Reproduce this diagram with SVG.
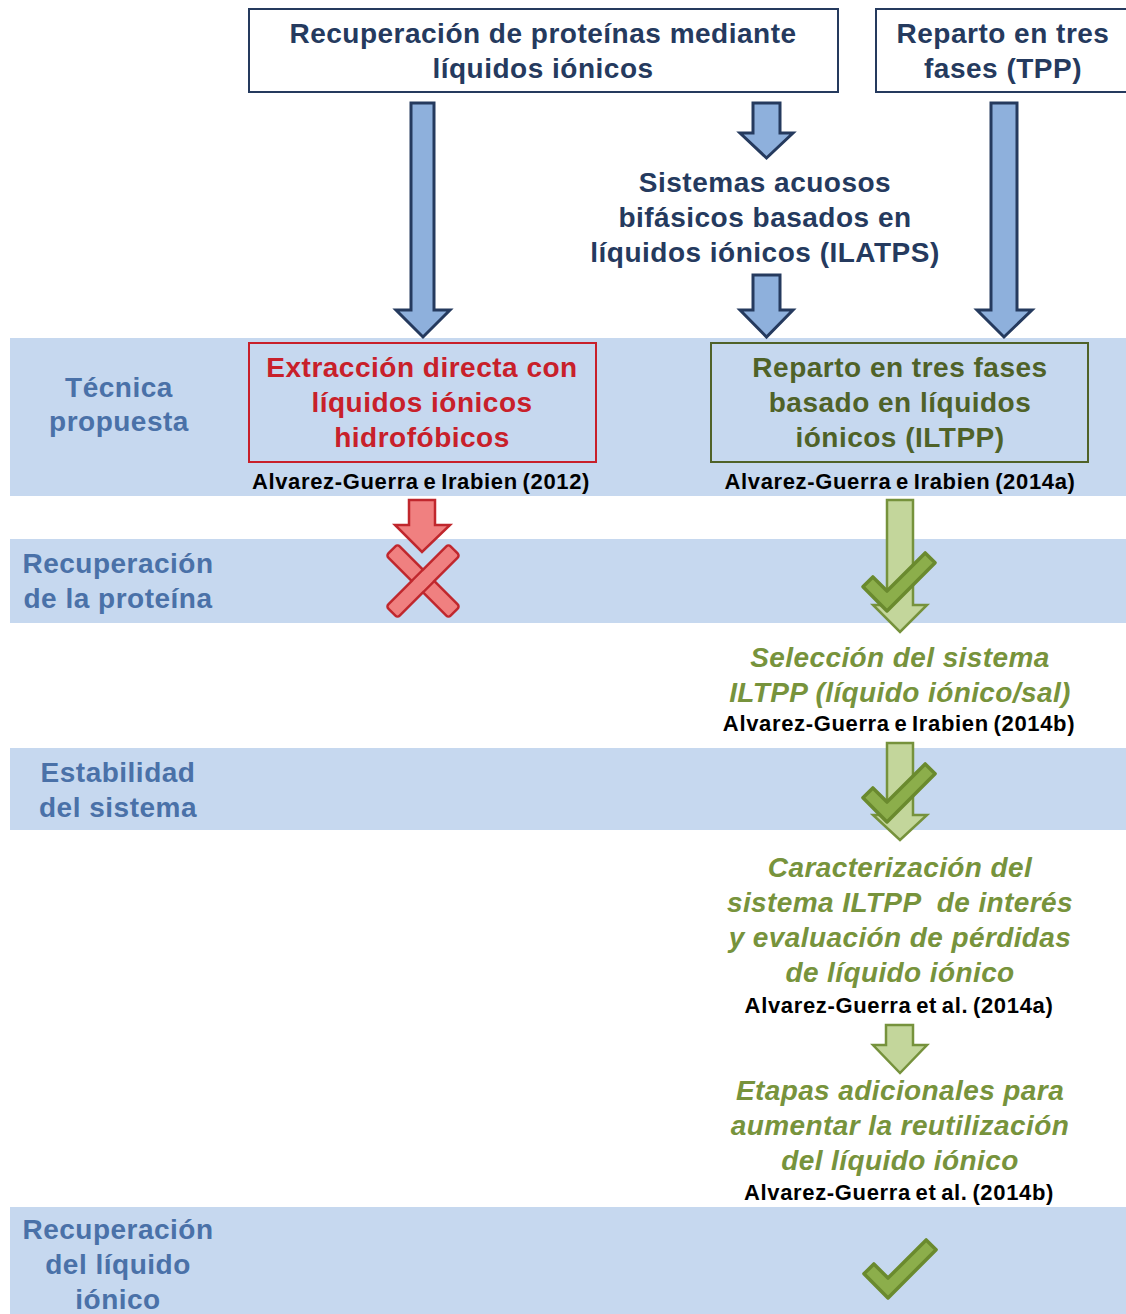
<svg xmlns="http://www.w3.org/2000/svg" width="1126" height="1314" viewBox="0 0 1126 1314">
  <defs>
    <style>
      text { font-family: "Liberation Sans", Arial, sans-serif; font-weight: bold; text-anchor: middle; }
      .navy { fill: #253a5e; font-size: 28px; letter-spacing: 0.5px; }
      .label { fill: #4a71a8; font-size: 28px; letter-spacing: 0.5px; }
      .red { fill: #c8202a; font-size: 28px; letter-spacing: 0.5px; }
      .green { fill: #4f6228; font-size: 28px; letter-spacing: 0.5px; }
      .step { fill: #77933c; font-size: 28px; font-style: italic; letter-spacing: 0.4px; }
      .ref { fill: #000000; font-size: 22px; letter-spacing: 0.65px; word-spacing: -2px; }
      .band { fill: #c6d8ef; }
      .arrow-blue { fill: #8eb0dc; stroke: #253a5e; stroke-width: 3; stroke-linejoin: miter; }
      .arrow-red { fill: #f08080; stroke: #c0272d; stroke-width: 2.5; }
      .arrow-green { fill: #c3d69b; stroke: #76923c; stroke-width: 2.5; }
      .check { fill: #8cae4b; stroke: #6a8a2e; stroke-width: 3.5; stroke-linejoin: round; }
      .cross { fill: #f08080; stroke: #c0272d; stroke-width: 2.5; }
    </style>
    <!-- check mark: L shape rotated so the long arm points up-right -->
    <polygon id="tick" points="-7,-27 7,-27 7,-7 61,-7 61,7 -7,7" transform="rotate(-45)"/>
  </defs>

  <!-- row bands -->
  <g id="bands">
    <rect class="band" x="10" y="338" width="1116" height="158"/>
    <rect class="band" x="10" y="539" width="1116" height="84"/>
    <rect class="band" x="10" y="748" width="1116" height="82"/>
    <rect class="band" x="10" y="1207" width="1116" height="107"/>
  </g>

  <!-- row labels -->
  <g id="row-labels">
    <text class="label" x="119" y="397">Técnica</text>
    <text class="label" x="119" y="431">propuesta</text>
    <text class="label" x="118" y="573">Recuperación</text>
    <text class="label" x="118" y="608">de la proteína</text>
    <text class="label" x="118" y="782">Estabilidad</text>
    <text class="label" x="118" y="817">del sistema</text>
    <text class="label" x="118" y="1239">Recuperación</text>
    <text class="label" x="118" y="1274">del líquido</text>
    <text class="label" x="118" y="1309">iónico</text>
  </g>

  <!-- connectors -->
  <g id="connectors">
    <polygon class="arrow-blue" points="411,103 434,103 434,310 450,310 423,337 396,310 411,310"/>
    <polygon class="arrow-blue" points="753,103 780,103 780,133 793,133 766.5,158 740,133 753,133"/>
    <polygon class="arrow-blue" points="753,275 780,275 780,310 793,310 766.5,337 740,310 753,310"/>
    <polygon class="arrow-blue" points="991,103 1017,103 1017,310 1032,310 1004,337 977,310 991,310"/>
    <polygon class="arrow-red" points="409,500 435,500 435,525 450,525 422,552 395,525 409,525"/>
    <polygon class="arrow-green" points="887,500 913,500 913,605 927,605 900,632 873,605 887,605"/>
    <polygon class="arrow-green" points="887,743 913,743 913,815 927,815 900,840 873,815 887,815"/>
    <polygon class="arrow-green" points="886,1025 913,1025 913,1045 927,1045 900,1073 873,1045 886,1045"/>
  </g>

  <!-- status marks -->
  <g id="marks">
    <g id="cross" transform="translate(423,581) rotate(45)">
      <rect class="cross" x="-44" y="-8" width="88" height="16" rx="3"/>
      <rect class="cross" x="-8" y="-44" width="16" height="88" rx="3"/>
      <rect x="-6.7" y="-6.7" width="13.4" height="13.4" fill="#f08080"/>
    </g>
    <use href="#tick" class="check" transform="translate(887,601)"/>
    <use href="#tick" class="check" transform="translate(887,812)"/>
    <use href="#tick" class="check" transform="translate(888,1288)"/>
  </g>

  <!-- source boxes -->
  <g id="node-recuperacion">
    <rect x="249" y="9" width="589" height="83" fill="#ffffff" stroke="#253a5e" stroke-width="2"/>
    <text class="navy" x="543" y="43">Recuperación de proteínas mediante</text>
    <text class="navy" x="543" y="78">líquidos iónicos</text>
  </g>
  <g id="node-tpp">
    <rect x="876" y="9" width="260" height="83" fill="#ffffff" stroke="#253a5e" stroke-width="2"/>
    <text class="navy" x="1003" y="43">Reparto en tres</text>
    <text class="navy" x="1003" y="78">fases (TPP)</text>
  </g>
  <g id="node-ilatps">
    <text class="navy" x="765" y="192">Sistemas acuosos</text>
    <text class="navy" x="765" y="227">bifásicos basados en</text>
    <text class="navy" x="765" y="262">líquidos iónicos (ILATPS)</text>
  </g>

  <!-- proposed techniques -->
  <g id="node-extraccion">
    <rect x="249" y="343" width="347" height="119" fill="none" stroke="#c8202a" stroke-width="2"/>
    <text class="red" x="422" y="377">Extracción directa con</text>
    <text class="red" x="422" y="412">líquidos iónicos</text>
    <text class="red" x="422" y="447">hidrofóbicos</text>
    <text class="ref" x="421" y="489">Alvarez-Guerra e Irabien (2012)</text>
  </g>
  <g id="node-iltpp">
    <rect x="711" y="343" width="377" height="119" fill="none" stroke="#4f6228" stroke-width="2"/>
    <text class="green" x="900" y="377">Reparto en tres fases</text>
    <text class="green" x="900" y="412">basado en líquidos</text>
    <text class="green" x="900" y="447">iónicos (ILTPP)</text>
    <text class="ref" x="900" y="489">Alvarez-Guerra e Irabien (2014a)</text>
  </g>

  <!-- follow-up steps -->
  <g id="node-seleccion">
    <text class="step" x="900" y="667">Selección del sistema</text>
    <text class="step" x="900" y="702">ILTPP (líquido iónico/sal)</text>
    <text class="ref" x="899" y="731">Alvarez-Guerra e Irabien (2014b)</text>
  </g>
  <g id="node-caracterizacion">
    <text class="step" x="900" y="877">Caracterización del</text>
    <text class="step" x="900" y="912" xml:space="preserve">sistema ILTPP  de interés</text>
    <text class="step" x="900" y="947">y evaluación de pérdidas</text>
    <text class="step" x="900" y="982">de líquido iónico</text>
    <text class="ref" x="899" y="1013">Alvarez-Guerra et al. (2014a)</text>
  </g>
  <g id="node-etapas">
    <text class="step" x="900" y="1100">Etapas adicionales para</text>
    <text class="step" x="900" y="1135">aumentar la reutilización</text>
    <text class="step" x="900" y="1170">del líquido iónico</text>
    <text class="ref" x="899" y="1200">Alvarez-Guerra et al. (2014b)</text>
  </g>
</svg>
